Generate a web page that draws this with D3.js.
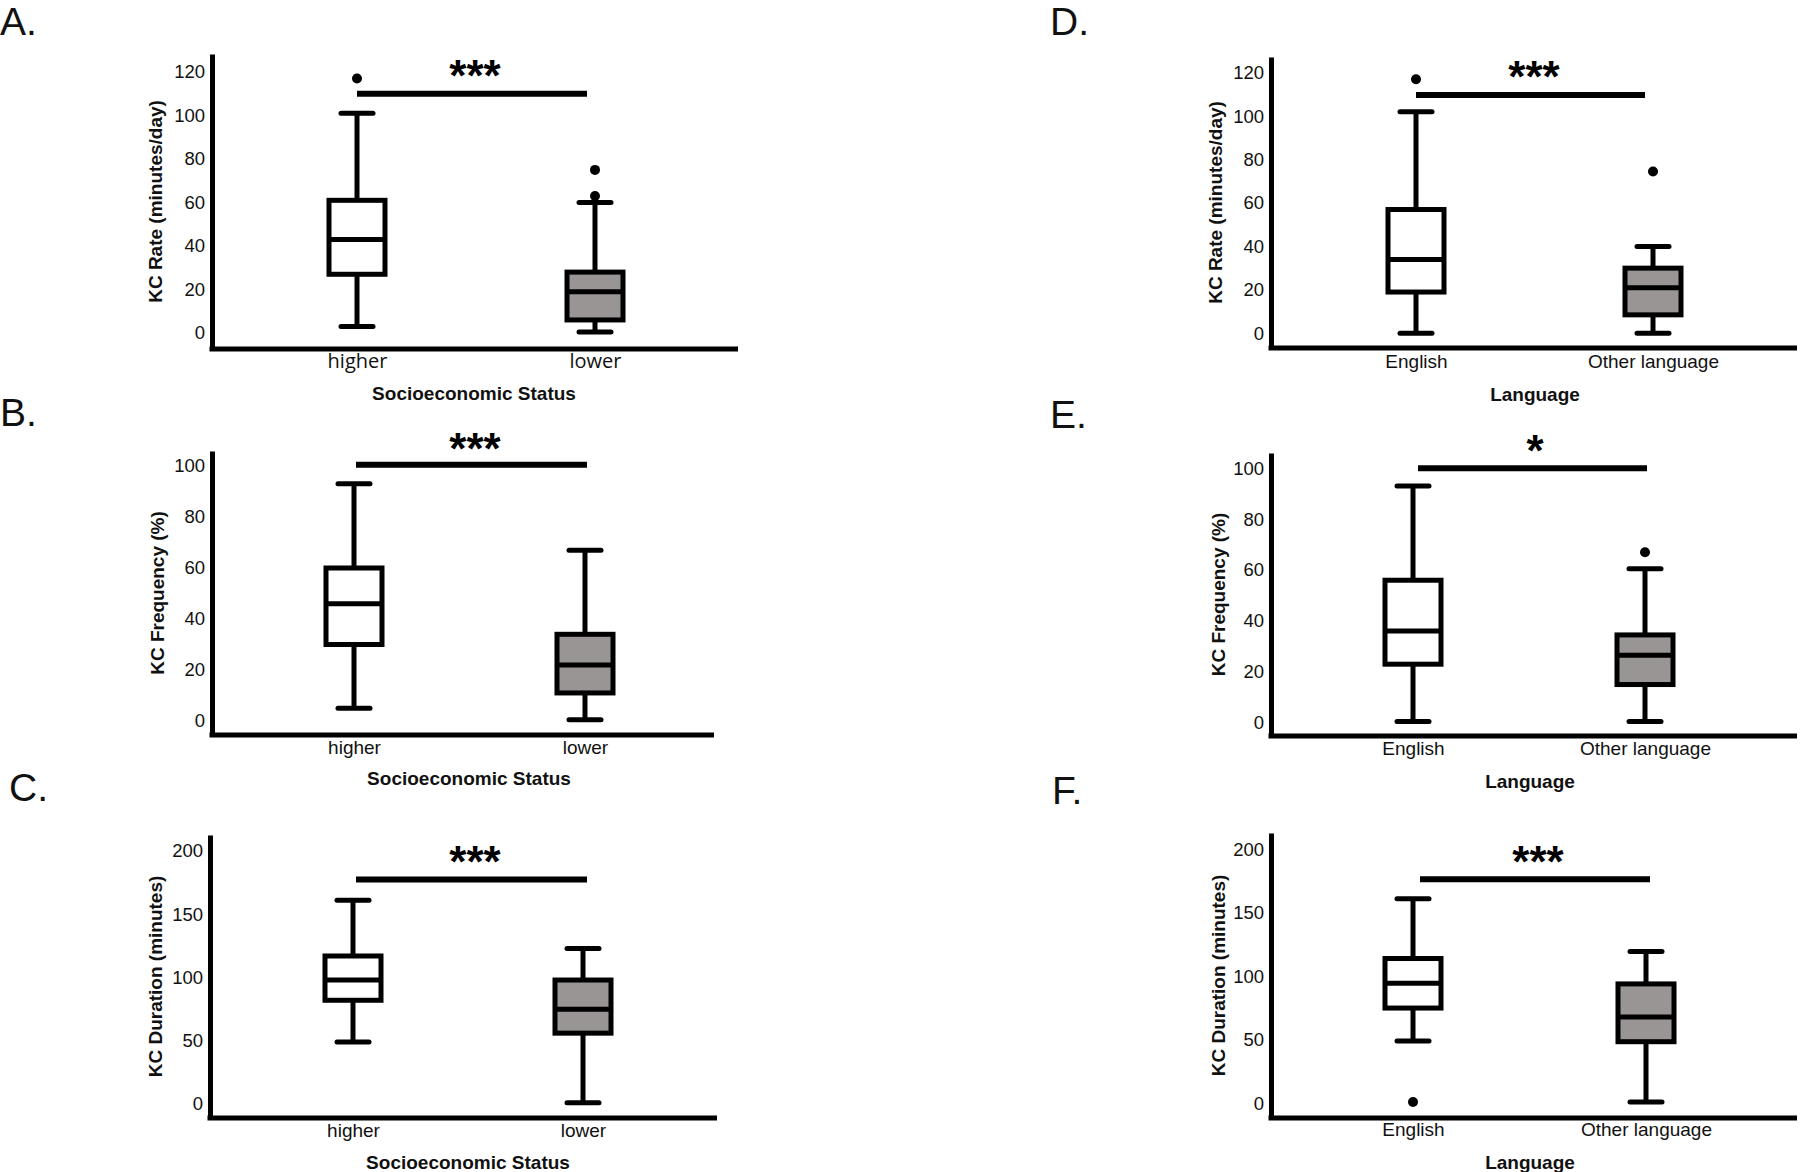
<!DOCTYPE html>
<html><head><meta charset="utf-8">
<script src="https://cdn.jsdelivr.net/npm/d3@7"></script>
<style>body{margin:0;background:#fff}svg{display:block}</style>
</head><body>
<svg id="c" width="1800" height="1172"></svg>
<script>
// ---------- DATA ----------
const panelLetters = ["A.", "B.", "C.", "D.", "E.", "F."];
const categoriesSES = ["higher", "lower"];
const categoriesLang = ["English", "Other language"];
const xTitles = ["Socioeconomic Status", "Socioeconomic Status", "Socioeconomic Status", "Language", "Language", "Language"];
const yTitles = ["KC Rate (minutes/day)", "KC Frequency (%)", "KC Duration (minutes)", "KC Rate (minutes/day)", "KC Frequency (%)", "KC Duration (minutes)"];
const yTicksRate = [0, 20, 40, 60, 80, 100, 120];
const yTicksFreq = [0, 20, 40, 60, 80, 100];
const yTicksDur = [0, 50, 100, 150, 200];
// box stats: [min, q1, median, q3, max]
const rateSES = [[3, 27, 43, 61, 101], [0.5, 6, 19, 28, 60]];
const rateSESOutliers = [[117], [63, 75]];
const freqSES = [[5, 30, 46, 60, 93], [0.5, 11, 22, 34, 67]];
const freqSESOutliers = [[], []];
const durSES = [[49, 82, 98, 117, 161], [1, 56, 75, 98, 123]];
const durSESOutliers = [[], []];
const rateLang = [[0, 19, 34, 57, 102], [0, 8.5, 21, 30, 40]];
const rateLangOutliers = [[117], [74.5]];
const freqLang = [[0.5, 23, 36, 56, 93], [0.5, 15, 26.5, 34.5, 60.5]];
const freqLangOutliers = [[], [67]];
const durLang = [[49, 75, 94.5, 114, 161], [1, 48.5, 68, 94, 119.5]];
const durLangOutliers = [[1], []];
const sigLabels = ["***", "***", "***", "***", "*", "***"];
const sigValues = [110, 100.5, 177.5, 109.7, 100, 176.5];

// ---------- LAYOUT ----------
const layout = [
  {ax:212, top:54,  base:349,  right:738,  y0:333,   y1:72,    c:[357,595],   xTickY:363,  xTitleY:393,  xTitleX:474,  yTitleX:155,  letter:[0,35],    sigX:[357,587],   starY:70.5,starX:475,  tickFont:"'Open Sans'", tickSize:20},
  {ax:212, top:451, base:735,  right:714,  y0:721,   y1:466,   c:[354,585],   xTickY:749,  xTitleY:778,  xTitleX:469,  yTitleX:157,  letter:[0,426],   sigX:[356,587],   starY:444, starX:475,  tickFont:"'Liberation Sans'", tickSize:19},
  {ax:210, top:835, base:1118, right:717,  y0:1104,  y1:851,   c:[353,583],   xTickY:1132, xTitleY:1162, xTitleX:468,  yTitleX:155,  letter:[9,801],   sigX:[356,587],   starY:857, starX:475,  tickFont:"'Liberation Sans'", tickSize:19},
  {ax:1271,top:57,  base:348,  right:1797, y0:333.3, y1:72.7,  c:[1416,1653], xTickY:363,  xTitleY:394,  xTitleX:1535, yTitleX:1215, letter:[1050,35], sigX:[1416,1645], starY:72,  starX:1534, tickFont:"'Liberation Sans'", tickSize:19},
  {ax:1271,top:453, base:736,  right:1797, y0:722.7, y1:468.3, c:[1413,1645], xTickY:750,  xTitleY:781,  xTitleX:1530, yTitleX:1218, letter:[1050,428],sigX:[1418,1647], starY:446, starX:1535, tickFont:"'Liberation Sans'", tickSize:19},
  {ax:1271,top:833, base:1118, right:1797, y0:1103.3,y1:849.3, c:[1413,1646], xTickY:1131, xTitleY:1162, xTitleX:1530, yTitleX:1218, letter:[1052,804],sigX:[1420,1650], starY:857, starX:1538, tickFont:"'Liberation Sans'", tickSize:19}
];

const panelData = [
  {cats:categoriesSES,  ticks:yTicksRate, stats:rateSES,  out:rateSESOutliers},
  {cats:categoriesSES,  ticks:yTicksFreq, stats:freqSES,  out:freqSESOutliers},
  {cats:categoriesSES,  ticks:yTicksDur,  stats:durSES,   out:durSESOutliers},
  {cats:categoriesLang, ticks:yTicksRate, stats:rateLang, out:rateLangOutliers},
  {cats:categoriesLang, ticks:yTicksFreq, stats:freqLang, out:freqLangOutliers},
  {cats:categoriesLang, ticks:yTicksDur,  stats:durLang,  out:durLangOutliers}
];

const fills = ["#ffffff", "#9a9595"];
const svg = d3.select("#c");
const font = "'Liberation Sans', Arial, Helvetica, sans-serif";
const BOXW = 56, CAPW = 32;

panelData.forEach((pd, i) => {
  const L = layout[i];
  const g = svg.append("g");
  const tmax = pd.ticks[pd.ticks.length - 1];
  const s0 = d3.scaleLinear().domain([0, tmax]).range([L.y0, L.y1]);
  const y = d3.scaleLinear().domain([s0.invert(L.base), s0.invert(L.top)]).range([L.base, L.top]);
  const x = d3.scalePoint().domain(pd.cats).range(L.c);

  // panel letter
  g.append("text").attr("x", L.letter[0]).attr("y", L.letter[1])
    .attr("font-family", font).attr("font-size", 39).attr("fill", "#111")
    .text(panelLetters[i]);

  // y axis
  const yAxis = g.append("g").attr("transform", `translate(${L.ax},0)`)
    .call(d3.axisLeft(y).tickValues(pd.ticks).tickSize(0).tickPadding(7).tickSizeOuter(0).tickFormat(d3.format("d")));
  yAxis.select(".domain").attr("stroke", "#000").attr("stroke-width", 5);
  yAxis.selectAll(".tick text").attr("font-family", font).attr("font-size", 18.5).attr("fill", "#111");

  // x axis
  g.append("line").attr("x1", L.ax - 2.5).attr("x2", L.right).attr("y1", L.base).attr("y2", L.base)
    .attr("stroke", "#000").attr("stroke-width", 5);
  const xAxis = g.append("g").attr("transform", `translate(0,${L.xTickY - 9})`)
    .call(d3.axisBottom(x).tickSize(0).tickPadding(0));
  xAxis.select(".domain").remove();
  xAxis.selectAll(".tick text").attr("font-family", L.tickFont + ", " + font).attr("font-size", L.tickSize).attr("fill", "#111")
    .attr("dy", "0.71em");

  // axis titles
  g.append("text").attr("x", L.xTitleX).attr("y", L.xTitleY + 7).attr("text-anchor", "middle")
    .attr("font-family", font).attr("font-weight", "bold").attr("font-size", 19).attr("fill", "#111")
    .text(xTitles[i]);
  g.append("text").attr("transform", `translate(${L.yTitleX + 7},${(L.top + L.base) / 2}) rotate(-90)`)
    .attr("text-anchor", "middle")
    .attr("font-family", font).attr("font-weight", "bold").attr("font-size", 19).attr("fill", "#111")
    .text(yTitles[i]);

  // boxes
  pd.cats.forEach((cat, j) => {
    const [mn, q1, md, q3, mx] = pd.stats[j];
    const cx = x(cat);
    const bg = g.append("g");
    bg.append("line").attr("x1", cx).attr("x2", cx).attr("y1", y(mx)).attr("y2", y(q3))
      .attr("stroke", "#000").attr("stroke-width", 5);
    bg.append("line").attr("x1", cx).attr("x2", cx).attr("y1", y(q1)).attr("y2", y(mn))
      .attr("stroke", "#000").attr("stroke-width", 5);
    [mn, mx].forEach(v => {
      bg.append("line").attr("x1", cx - CAPW / 2).attr("x2", cx + CAPW / 2).attr("y1", y(v)).attr("y2", y(v))
        .attr("stroke", "#000").attr("stroke-width", 5).attr("stroke-linecap", "round");
    });
    bg.append("rect").attr("x", cx - BOXW / 2).attr("y", y(q3)).attr("width", BOXW).attr("height", y(q1) - y(q3))
      .attr("fill", fills[j]).attr("stroke", "#000").attr("stroke-width", 5);
    bg.append("line").attr("x1", cx - BOXW / 2).attr("x2", cx + BOXW / 2).attr("y1", y(md)).attr("y2", y(md))
      .attr("stroke", "#000").attr("stroke-width", 5);
    pd.out[j].forEach(v => {
      bg.append("circle").attr("cx", cx).attr("cy", y(v)).attr("r", 5).attr("fill", "#000");
    });
  });

  // significance bar
  g.append("line").attr("x1", L.sigX[0]).attr("x2", L.sigX[1]).attr("y1", y(sigValues[i])).attr("y2", y(sigValues[i]))
    .attr("stroke", "#000").attr("stroke-width", 6);
  g.append("text").attr("x", L.starX).attr("y", L.starY + 20).attr("text-anchor", "middle")
    .attr("font-family", font).attr("font-weight", "bold").attr("font-size", 44).attr("fill", "#000")
    .text(sigLabels[i]);
});
</script>
</body></html>
